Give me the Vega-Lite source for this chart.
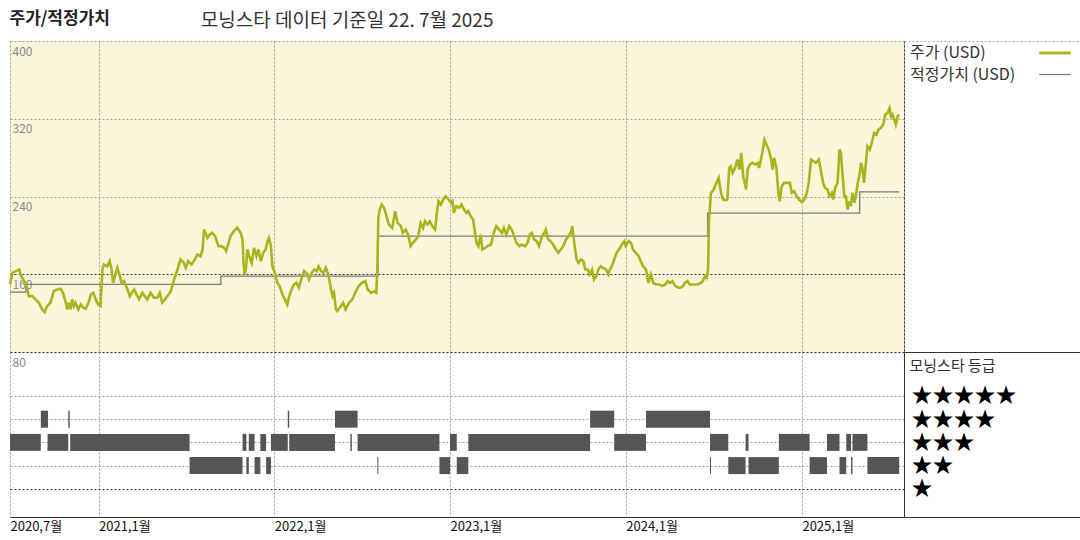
{
"$schema": "https://vega.github.io/schema/vega-lite/v6.json",
"background": "white",
"padding": {"left": 4, "top": 9, "right": 0, "bottom": 0},
"autosize": {"type": "pad"},
"config": {"font": "Noto Sans CJK KR", "view": {"stroke": null}},
"datasets": {
"price": [
{"d":"2020-07-01","p":149.5},{"d":"2020-07-06","p":161.5},{"d":"2020-07-13","p":163.2},{"d":"2020-07-20","p":164.9},{"d":"2020-07-23","p":159.8},{"d":"2020-07-30","p":152.9},{"d":"2020-08-02","p":151.2},{"d":"2020-08-06","p":144.3},{"d":"2020-08-09","p":137.5},{"d":"2020-08-16","p":137.5},{"d":"2020-08-23","p":134.1},{"d":"2020-08-30","p":130.6},{"d":"2020-09-06","p":123.8},{"d":"2020-09-11","p":121.0},{"d":"2020-09-16","p":127.2},{"d":"2020-09-23","p":130.6},{"d":"2020-09-27","p":137.5},{"d":"2020-09-30","p":142.6},{"d":"2020-10-07","p":144.3},{"d":"2020-10-14","p":145.0},{"d":"2020-10-19","p":140.9},{"d":"2020-10-25","p":130.6},{"d":"2020-10-28","p":123.8},{"d":"2020-10-31","p":130.6},{"d":"2020-11-04","p":123.8},{"d":"2020-11-07","p":134.1},{"d":"2020-11-11","p":127.2},{"d":"2020-11-14","p":130.6},{"d":"2020-11-20","p":123.8},{"d":"2020-11-25","p":128.9},{"d":"2020-11-30","p":125.5},{"d":"2020-12-05","p":124.5},{"d":"2020-12-11","p":130.6},{"d":"2020-12-16","p":139.2},{"d":"2020-12-21","p":140.9},{"d":"2020-12-26","p":134.1},{"d":"2020-12-31","p":128.9},
{"d":"2021-01-05","p":127.2},{"d":"2021-01-09","p":164.9},{"d":"2021-01-12","p":170.0},{"d":"2021-01-19","p":168.3},{"d":"2021-01-24","p":173.5},{"d":"2021-01-28","p":164.9},{"d":"2021-01-31","p":151.2},{"d":"2021-02-04","p":158.1},{"d":"2021-02-09","p":166.6},{"d":"2021-02-12","p":161.5},{"d":"2021-02-18","p":151.2},{"d":"2021-02-23","p":152.9},{"d":"2021-03-02","p":144.3},{"d":"2021-03-07","p":137.5},{"d":"2021-03-11","p":140.9},{"d":"2021-03-16","p":144.3},{"d":"2021-03-21","p":139.2},{"d":"2021-03-26","p":134.1},{"d":"2021-04-02","p":140.9},{"d":"2021-04-07","p":137.5},{"d":"2021-04-12","p":134.1},{"d":"2021-04-19","p":140.9},{"d":"2021-04-26","p":135.8},{"d":"2021-05-03","p":135.8},{"d":"2021-05-08","p":140.9},{"d":"2021-05-13","p":130.6},{"d":"2021-05-19","p":134.1},{"d":"2021-05-24","p":137.5},{"d":"2021-05-31","p":142.6},{"d":"2021-06-07","p":154.6},{"d":"2021-06-14","p":164.9},{"d":"2021-06-20","p":175.2},{"d":"2021-06-27","p":171.8},{"d":"2021-07-01","p":166.6},{"d":"2021-07-06","p":173.5},{"d":"2021-07-13","p":170.0},{"d":"2021-07-20","p":175.2},{"d":"2021-07-25","p":180.3},{"d":"2021-08-01","p":178.6},{"d":"2021-08-05","p":185.5},{"d":"2021-08-08","p":206.0},{"d":"2021-08-11","p":202.6},{"d":"2021-08-15","p":197.5},{"d":"2021-08-20","p":200.9},{"d":"2021-08-25","p":202.6},{"d":"2021-08-31","p":199.2},{"d":"2021-09-07","p":188.9},{"d":"2021-09-12","p":188.9},{"d":"2021-09-19","p":187.2},{"d":"2021-09-23","p":183.8},{"d":"2021-09-28","p":192.3},{"d":"2021-10-02","p":199.2},{"d":"2021-10-09","p":204.3},{"d":"2021-10-16","p":207.8},{"d":"2021-10-23","p":202.6},{"d":"2021-10-27","p":195.7},{"d":"2021-10-29","p":171.8},{"d":"2021-10-31","p":159.8},{"d":"2021-11-03","p":164.9},{"d":"2021-11-06","p":185.5},{"d":"2021-11-10","p":178.6},{"d":"2021-11-15","p":171.8},{"d":"2021-11-20","p":187.2},{"d":"2021-11-25","p":178.6},{"d":"2021-11-29","p":185.5},{"d":"2021-12-04","p":173.5},{"d":"2021-12-09","p":182.0},{"d":"2021-12-14","p":185.5},{"d":"2021-12-18","p":194.0},{"d":"2021-12-21","p":197.5},{"d":"2021-12-25","p":188.9},{"d":"2021-12-28","p":168.3},
{"d":"2022-01-03","p":159.8},{"d":"2022-01-07","p":151.2},{"d":"2022-01-12","p":147.8},{"d":"2022-01-18","p":139.2},{"d":"2022-01-23","p":134.1},{"d":"2022-01-28","p":128.9},{"d":"2022-02-01","p":137.5},{"d":"2022-02-06","p":144.3},{"d":"2022-02-11","p":149.5},{"d":"2022-02-16","p":151.2},{"d":"2022-02-21","p":146.1},{"d":"2022-02-28","p":158.1},{"d":"2022-03-04","p":163.2},{"d":"2022-03-11","p":159.8},{"d":"2022-03-14","p":154.6},{"d":"2022-03-20","p":161.5},{"d":"2022-03-25","p":164.9},{"d":"2022-03-30","p":163.2},{"d":"2022-04-03","p":168.3},{"d":"2022-04-08","p":163.2},{"d":"2022-04-13","p":161.5},{"d":"2022-04-18","p":166.6},{"d":"2022-04-24","p":158.1},{"d":"2022-04-29","p":144.3},{"d":"2022-05-02","p":137.5},{"d":"2022-05-05","p":140.9},{"d":"2022-05-09","p":123.8},{"d":"2022-05-12","p":122.1},{"d":"2022-05-19","p":127.2},{"d":"2022-05-24","p":130.6},{"d":"2022-05-29","p":123.8},{"d":"2022-06-05","p":130.6},{"d":"2022-06-12","p":134.1},{"d":"2022-06-18","p":140.9},{"d":"2022-06-25","p":147.8},{"d":"2022-07-02","p":151.2},{"d":"2022-07-09","p":152.9},{"d":"2022-07-14","p":144.3},{"d":"2022-07-21","p":140.9},{"d":"2022-07-27","p":142.6},{"d":"2022-08-01","p":140.9},{"d":"2022-08-03","p":164.9},{"d":"2022-08-05","p":218.0},{"d":"2022-08-08","p":226.6},{"d":"2022-08-12","p":231.7},{"d":"2022-08-17","p":228.3},{"d":"2022-08-20","p":223.2},{"d":"2022-08-27","p":211.2},{"d":"2022-09-03","p":207.7},{"d":"2022-09-09","p":224.9},{"d":"2022-09-14","p":212.9},{"d":"2022-09-21","p":209.5},{"d":"2022-09-25","p":202.6},{"d":"2022-10-01","p":206.0},{"d":"2022-10-07","p":199.2},{"d":"2022-10-11","p":188.9},{"d":"2022-10-16","p":192.3},{"d":"2022-10-22","p":195.8},{"d":"2022-10-27","p":199.2},{"d":"2022-11-01","p":212.9},{"d":"2022-11-06","p":207.7},{"d":"2022-11-10","p":214.6},{"d":"2022-11-15","p":211.2},{"d":"2022-11-20","p":214.6},{"d":"2022-11-25","p":209.5},{"d":"2022-12-01","p":206.0},{"d":"2022-12-04","p":219.7},{"d":"2022-12-08","p":235.2},{"d":"2022-12-13","p":231.7},{"d":"2022-12-18","p":236.9},{"d":"2022-12-23","p":240.3},{"d":"2022-12-29","p":236.9},
{"d":"2023-01-03","p":233.5},{"d":"2023-01-06","p":235.2},{"d":"2023-01-09","p":223.2},{"d":"2023-01-14","p":230.0},{"d":"2023-01-20","p":228.3},{"d":"2023-01-25","p":231.7},{"d":"2023-01-30","p":226.6},{"d":"2023-02-04","p":223.2},{"d":"2023-02-08","p":224.9},{"d":"2023-02-13","p":219.7},{"d":"2023-02-18","p":216.3},{"d":"2023-02-22","p":202.6},{"d":"2023-02-25","p":192.3},{"d":"2023-03-01","p":188.9},{"d":"2023-03-06","p":200.9},{"d":"2023-03-09","p":185.5},{"d":"2023-03-15","p":187.2},{"d":"2023-03-20","p":188.9},{"d":"2023-03-27","p":190.6},{"d":"2023-04-03","p":204.3},{"d":"2023-04-07","p":209.5},{"d":"2023-04-13","p":206.0},{"d":"2023-04-19","p":202.6},{"d":"2023-04-23","p":207.7},{"d":"2023-04-28","p":200.9},{"d":"2023-05-04","p":209.5},{"d":"2023-05-09","p":206.0},{"d":"2023-05-14","p":199.2},{"d":"2023-05-19","p":192.3},{"d":"2023-05-25","p":188.9},{"d":"2023-05-30","p":190.6},{"d":"2023-06-06","p":188.9},{"d":"2023-06-11","p":192.3},{"d":"2023-06-16","p":200.9},{"d":"2023-06-20","p":202.6},{"d":"2023-06-25","p":195.8},{"d":"2023-06-30","p":194.0},{"d":"2023-07-05","p":188.9},{"d":"2023-07-11","p":199.2},{"d":"2023-07-16","p":202.6},{"d":"2023-07-19","p":206.0},{"d":"2023-07-24","p":195.8},{"d":"2023-07-29","p":194.0},{"d":"2023-08-03","p":190.6},{"d":"2023-08-09","p":185.5},{"d":"2023-08-14","p":182.0},{"d":"2023-08-19","p":185.5},{"d":"2023-08-24","p":188.9},{"d":"2023-08-30","p":195.8},{"d":"2023-09-04","p":199.2},{"d":"2023-09-09","p":202.6},{"d":"2023-09-12","p":209.5},{"d":"2023-09-16","p":192.3},{"d":"2023-09-21","p":175.2},{"d":"2023-09-25","p":171.8},{"d":"2023-09-30","p":175.2},{"d":"2023-10-05","p":173.5},{"d":"2023-10-09","p":164.9},{"d":"2023-10-14","p":164.9},{"d":"2023-10-18","p":159.8},{"d":"2023-10-23","p":164.9},{"d":"2023-10-27","p":154.6},{"d":"2023-11-01","p":158.1},{"d":"2023-11-05","p":164.9},{"d":"2023-11-10","p":168.3},{"d":"2023-11-15","p":166.6},{"d":"2023-11-21","p":164.9},{"d":"2023-11-26","p":159.8},{"d":"2023-11-29","p":164.9},{"d":"2023-12-03","p":168.3},{"d":"2023-12-08","p":175.2},{"d":"2023-12-13","p":182.0},{"d":"2023-12-18","p":185.5},{"d":"2023-12-24","p":190.6},{"d":"2023-12-29","p":194.0},
{"d":"2024-01-01","p":188.9},{"d":"2024-01-07","p":194.0},{"d":"2024-01-12","p":192.3},{"d":"2024-01-16","p":185.5},{"d":"2024-01-22","p":182.0},{"d":"2024-01-28","p":178.6},{"d":"2024-02-01","p":173.5},{"d":"2024-02-06","p":168.3},{"d":"2024-02-12","p":164.9},{"d":"2024-02-17","p":151.2},{"d":"2024-02-22","p":159.8},{"d":"2024-02-27","p":151.2},{"d":"2024-03-04","p":149.5},{"d":"2024-03-11","p":149.5},{"d":"2024-03-17","p":147.8},{"d":"2024-03-23","p":149.5},{"d":"2024-03-28","p":152.9},{"d":"2024-04-02","p":151.2},{"d":"2024-04-07","p":152.9},{"d":"2024-04-13","p":147.8},{"d":"2024-04-20","p":146.1},{"d":"2024-04-24","p":146.1},{"d":"2024-04-29","p":147.8},{"d":"2024-05-03","p":151.2},{"d":"2024-05-08","p":152.9},{"d":"2024-05-13","p":149.5},{"d":"2024-05-19","p":149.5},{"d":"2024-05-24","p":149.5},{"d":"2024-05-29","p":149.5},{"d":"2024-06-05","p":151.2},{"d":"2024-06-09","p":152.9},{"d":"2024-06-14","p":158.1},{"d":"2024-06-17","p":156.3},{"d":"2024-06-20","p":164.9},{"d":"2024-06-22","p":216.3},{"d":"2024-06-26","p":243.7},{"d":"2024-07-01","p":246.5},{"d":"2024-07-06","p":252.3},{"d":"2024-07-12","p":259.2},{"d":"2024-07-17","p":243.7},{"d":"2024-07-21","p":236.9},{"d":"2024-07-27","p":236.2},{"d":"2024-07-30","p":236.9},{"d":"2024-08-03","p":269.4},{"d":"2024-08-06","p":271.1},{"d":"2024-08-10","p":264.3},{"d":"2024-08-15","p":269.4},{"d":"2024-08-20","p":278.0},{"d":"2024-08-24","p":267.7},{"d":"2024-08-28","p":284.9},{"d":"2024-09-01","p":260.9},{"d":"2024-09-07","p":247.2},{"d":"2024-09-10","p":267.7},{"d":"2024-09-15","p":272.9},{"d":"2024-09-20","p":274.6},{"d":"2024-09-26","p":272.9},{"d":"2024-10-01","p":274.6},{"d":"2024-10-04","p":269.4},{"d":"2024-10-10","p":283.1},{"d":"2024-10-15","p":298.6},{"d":"2024-10-18","p":295.1},{"d":"2024-10-24","p":288.3},{"d":"2024-10-29","p":278.0},{"d":"2024-11-01","p":267.7},{"d":"2024-11-04","p":279.7},{"d":"2024-11-09","p":269.4},{"d":"2024-11-13","p":243.7},{"d":"2024-11-16","p":235.2},{"d":"2024-11-20","p":250.6},{"d":"2024-11-25","p":254.0},{"d":"2024-12-02","p":254.0},{"d":"2024-12-07","p":254.0},{"d":"2024-12-11","p":243.7},{"d":"2024-12-16","p":245.4},{"d":"2024-12-21","p":240.3},{"d":"2024-12-26","p":236.9},
{"d":"2025-01-01","p":234.1},{"d":"2025-01-06","p":236.9},{"d":"2025-01-11","p":243.7},{"d":"2025-01-15","p":254.0},{"d":"2025-01-20","p":278.0},{"d":"2025-01-25","p":276.3},{"d":"2025-01-30","p":274.6},{"d":"2025-02-05","p":278.0},{"d":"2025-02-09","p":267.7},{"d":"2025-02-14","p":254.0},{"d":"2025-02-18","p":248.9},{"d":"2025-02-23","p":247.2},{"d":"2025-02-27","p":240.3},{"d":"2025-03-04","p":243.7},{"d":"2025-03-07","p":236.9},{"d":"2025-03-11","p":248.9},{"d":"2025-03-16","p":254.0},{"d":"2025-03-20","p":288.3},{"d":"2025-03-23","p":284.9},{"d":"2025-03-26","p":264.3},{"d":"2025-03-30","p":240.3},{"d":"2025-04-02","p":240.3},{"d":"2025-04-06","p":226.6},{"d":"2025-04-09","p":233.5},{"d":"2025-04-13","p":231.7},{"d":"2025-04-16","p":243.7},{"d":"2025-04-20","p":233.5},{"d":"2025-04-23","p":240.3},{"d":"2025-04-27","p":254.0},{"d":"2025-04-30","p":260.9},{"d":"2025-05-04","p":274.6},{"d":"2025-05-07","p":267.7},{"d":"2025-05-10","p":254.0},{"d":"2025-05-14","p":274.6},{"d":"2025-05-17","p":291.7},{"d":"2025-05-22","p":288.3},{"d":"2025-05-26","p":295.1},{"d":"2025-05-31","p":305.4},{"d":"2025-06-05","p":303.7},{"d":"2025-06-09","p":308.8},{"d":"2025-06-14","p":310.6},{"d":"2025-06-19","p":314.0},{"d":"2025-06-23","p":324.3},{"d":"2025-06-28","p":326.0},{"d":"2025-07-02","p":331.1},{"d":"2025-07-05","p":322.6},{"d":"2025-07-08","p":324.3},{"d":"2025-07-12","p":319.1},{"d":"2025-07-15","p":314.0},{"d":"2025-07-19","p":322.6},{"d":"2025-07-22","p":324.3}
],
"fv": [
{"d":"2020-07-01","f":141.7},{"d":"2020-08-03","f":149.6},{"d":"2021-09-12","f":158.1},{"d":"2022-08-04","f":199.2},{"d":"2024-06-19","f":222.9},{"d":"2025-05-01","f":244.8},{"d":"2025-07-22","f":244.8}
],
"stars": [
{"r":4,"s":"2020-09-03","e":"2020-09-18"},{"r":4,"s":"2020-10-30","e":"2020-11-02"},{"r":4,"s":"2022-01-29","e":"2022-02-01"},{"r":4,"s":"2022-05-07","e":"2022-06-23"},{"r":4,"s":"2023-10-19","e":"2023-12-08"},{"r":4,"s":"2024-02-12","e":"2024-06-24"},
{"r":3,"s":"2020-07-01","e":"2020-09-03"},{"r":3,"s":"2020-09-17","e":"2020-10-30"},{"r":3,"s":"2020-11-03","e":"2021-07-09"},{"r":3,"s":"2021-10-27","e":"2021-11-04"},{"r":3,"s":"2021-11-09","e":"2021-11-21"},{"r":3,"s":"2021-12-03","e":"2021-12-15"},{"r":3,"s":"2021-12-25","e":"2022-01-29"},{"r":3,"s":"2022-02-01","e":"2022-05-07"},{"r":3,"s":"2022-06-08","e":"2022-06-11"},{"r":3,"s":"2022-06-23","e":"2022-12-10"},{"r":3,"s":"2023-01-01","e":"2023-01-15"},{"r":3,"s":"2023-02-08","e":"2023-10-19"},{"r":3,"s":"2023-12-08","e":"2024-02-12"},{"r":3,"s":"2024-06-24","e":"2024-08-01"},{"r":3,"s":"2024-09-06","e":"2024-09-12"},{"r":3,"s":"2024-11-14","e":"2025-01-17"},{"r":3,"s":"2025-02-22","e":"2025-03-20"},{"r":3,"s":"2025-04-03","e":"2025-04-13"},{"r":3,"s":"2025-04-16","e":"2025-05-17"},
{"r":2,"s":"2021-07-09","e":"2021-10-27"},{"r":2,"s":"2021-11-04","e":"2021-11-09"},{"r":2,"s":"2021-11-21","e":"2021-12-03"},{"r":2,"s":"2021-12-15","e":"2021-12-25"},{"r":2,"s":"2022-08-03","e":"2022-08-05"},{"r":2,"s":"2022-12-10","e":"2023-01-01"},{"r":2,"s":"2023-01-15","e":"2023-02-08"},{"r":2,"s":"2024-06-24","e":"2024-06-26"},{"r":2,"s":"2024-08-01","e":"2024-09-06"},{"r":2,"s":"2024-09-12","e":"2024-11-14"},{"r":2,"s":"2025-01-17","e":"2025-02-22"},{"r":2,"s":"2025-03-20","e":"2025-04-03"},{"r":2,"s":"2025-04-13","e":"2025-04-16"},{"r":2,"s":"2025-05-17","e":"2025-07-22"}
]
},
"columns": 2,
"align": "each",
"bounds": "flush",
"spacing": 0,
"concat": [
 {
  "width": 894, "height": 311,
  "title": {"text": "모닝스타 데이터 기준일 22. 7월 2025", "anchor": "start", "dx": 196, "offset": -22, "fontSize": 19, "fontWeight": "normal", "color": "#333", "font": "Noto Sans CJK KR"},
  "view": {"fill": "#FAF6DA", "stroke": null},
  "layer": [
   {"data": {"name": "fv"},
    "mark": {"type": "line", "strokeWidth": 1.3, "interpolate": "step-after"},
    "encoding": {
     "x": {"field": "d", "type": "temporal", "scale": {"type": "utc", "domain": [{"year":2020,"month":7,"date":1,"utc":true},{"year":2025,"month":8,"date":1,"utc":true}]},
       "axis": {"values": [{"year":2020,"month":7,"date":1,"utc":true},{"year":2021,"month":1,"date":1,"utc":true},{"year":2022,"month":1,"date":1,"utc":true},{"year":2023,"month":1,"date":1,"utc":true},{"year":2024,"month":1,"date":1,"utc":true},{"year":2025,"month":1,"date":1,"utc":true}], "grid": true, "gridColor": "#a0a0a0", "gridDash": [2,2], "labels": false, "ticks": false, "tickSize": 0, "domain": true, "domainColor": "#333", "domainDash": [2,2], "title": null}},
     "y": {"field": "f", "type": "quantitative", "scale": {"domain": [80,400], "nice": false, "zero": false},
       "axis": {"orient": "right", "title": null, "labels": false, "ticks": false, "tickSize": 0, "grid": false, "domain": true, "domainColor": "#333", "domainWidth": 1}},
     "color": {"datum": "적정가치 (USD)"}
    }
   },
   {"data": {"name": "price"},
    "mark": {"type": "line", "strokeWidth": 2.6, "interpolate": "linear"},
    "encoding": {
     "x": {"field": "d", "type": "temporal"},
     "y": {"field": "p", "type": "quantitative",
       "axis": {"orient": "left", "title": "주가/적정가치", "titleAngle": 0, "titleAlign": "left", "titleBaseline": "alphabetic", "titleX": -1, "titleY": -18, "titleFontSize": 17, "titleFontWeight": "bold", "titleColor": "#222", "titleFont": "Noto Sans CJK KR",
        "values": [80,160,240,320,400], "grid": true, "gridColor": {"condition": {"test": "datum.value === 160", "value": "#333"}, "value": "#a0a0a0"}, "gridDash": [2,2], "domain": false, "ticks": false, "tickSize": 0,
        "labelAlign": "left", "labelBaseline": "top", "labelPadding": -2, "labelOffset": 5, "labelColor": "#8a8a8a", "labelFontSize": 12}},
     "color": {"datum": "주가 (USD)", "scale": {"domain": ["주가 (USD)", "적정가치 (USD)"], "range": ["#AAB41E", "#7a7a7a"]},
       "legend": {"orient": "none", "legendX": 1037, "legendY": 4, "title": null, "symbolType": "stroke", "symbolSize": 1000, "symbolStrokeWidth": 3, "labelOffset": -153, "labelFontSize": 16, "labelColor": "#333", "labelFont": "Noto Sans CJK KR", "rowPadding": 5.5, "padding": 0,
        "encode": {"symbols": {"update": {"strokeWidth": {"signal": "datum.value === '주가 (USD)' ? 3 : 1.2"}}}}}}
    }
   }
  ],
  "resolve": {"axis": {"y": "independent"}}
 },
 {"width": 181, "height": 311, "data": {"values": []}, "mark": "point", "view": {"stroke": "#aaa", "strokeDash": [2,2]}},
 {
  "width": 894, "height": 165,
  "data": {"name": "stars"},
  "view": {"stroke": null},
  "mark": {"type": "bar", "orient": "horizontal", "size": 17, "color": "#555555"},
  "encoding": {
   "x": {"field": "s", "type": "temporal", "scale": {"type": "utc", "domain": [{"year":2020,"month":7,"date":1,"utc":true},{"year":2025,"month":8,"date":1,"utc":true}]},
     "axis": {"values": [{"year":2020,"month":7,"date":1,"utc":true},{"year":2021,"month":1,"date":1,"utc":true},{"year":2022,"month":1,"date":1,"utc":true},{"year":2023,"month":1,"date":1,"utc":true},{"year":2024,"month":1,"date":1,"utc":true},{"year":2025,"month":1,"date":1,"utc":true}], "grid": true, "gridColor": "#a0a0a0", "gridDash": [2,2], "ticks": false, "tickSize": 0, "domain": true, "domainColor": "#333", "labelAlign": "left", "labelPadding": 3, "labelFlush": false, "labelOverlap": false, "labelColor": "#111", "labelFontSize": 13, "labelExpr": "utcFormat(datum.value, '%Y,%-m월')", "title": null}},
   "x2": {"field": "e"},
   "y": {"field": "r", "type": "quantitative", "scale": {"domain": [0, 6.68], "nice": false, "zero": false},
     "axis": {"orient": "right", "values": [1,2,3,4,5], "grid": true, "gridColor": {"condition": {"test": "datum.value === 1", "value": "#333"}, "value": "#a0a0a0"}, "gridDash": [2,2], "domain": false, "ticks": false, "tickSize": 0,
      "labelAlign": "left", "labelBaseline": "middle", "labelPadding": 7, "labelFontSize": 21, "labelColor": "#000", "labelFont": "Noto Sans CJK KR",
      "labelExpr": "['','★','★★','★★★','★★★★','★★★★★'][datum.value]",
      "title": "모닝스타 등급", "titleAngle": 0, "titleAlign": "left", "titleBaseline": "middle", "titleX": 5, "titleY": 13, "titleFontSize": 15, "titleFontWeight": "normal", "titleColor": "#333", "titleFont": "Noto Sans CJK KR"}}
  }
 },
 {"width": 181, "height": 165, "data": {"values": []}, "mark": "point", "view": {"stroke": "#333"}}
]
}
